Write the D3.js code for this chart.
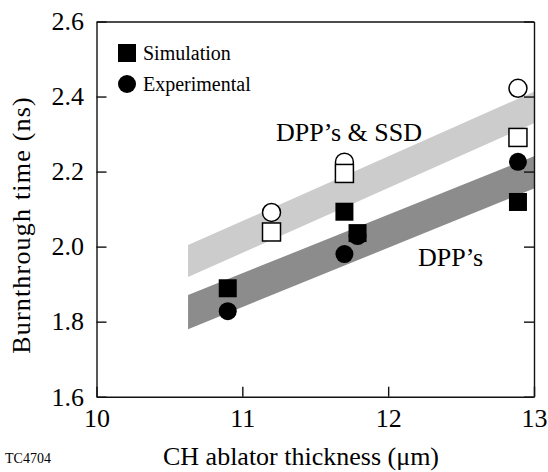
<!DOCTYPE html>
<html><head><meta charset="utf-8">
<script src="https://cdn.jsdelivr.net/npm/d3@7"></script>
<style>body{margin:0;background:#fff}svg{display:block}</style>
</head><body><svg id="c" width="548" height="472"></svg>
<script>
// Data
const xTicks = [10, 11, 12, 13];
const yTicks = [1.6, 1.8, 2.0, 2.2, 2.4, 2.6];
const simX = [10.9, 11.7, 11.79, 12.89];
const simY = [1.889, 2.093, 2.036, 2.119];
const expX = [10.9, 11.7, 11.79, 12.89];
const expY = [1.828, 1.98, 2.028, 2.226];
const ssdSimX = [11.2, 11.7, 12.89];
const ssdSimY = [2.039, 2.195, 2.291];
const ssdExpX = [11.2, 11.7, 12.89];
const ssdExpY = [2.091, 2.225, 2.422];
// bands: [x, top, bottom]
const bandSSD = [[10.628, 2.004, 1.919], [13, 2.413, 2.329]];
const bandDPP = [[10.628, 1.871, 1.780], [13, 2.241, 2.155]];
const legendLabels = ["Simulation", "Experimental"];

const FONT = "'Liberation Serif', 'Times New Roman', Times, serif";
const svg = d3.select("#c").style("font-family", FONT);
const L = 96.5, R = 534, T = 21.5, B = 396.7;
const x = d3.scaleLinear().domain([10, 13]).range([L, R]);
const y = d3.scaleLinear().domain([1.6, 2.6]).range([B, T]);

function band(b, color) {
  const pts = [[b[0][0], b[0][1]], [b[1][0], b[1][1]], [b[1][0], b[1][2]], [b[0][0], b[0][2]]];
  svg.append("path").attr("d", "M" + pts.map(p => [x(p[0]), y(p[1])].join(",")).join("L") + "Z")
    .attr("fill", color);
}
band(bandSSD, "#cccccc");
band(bandDPP, "#8c8c8c");

// axes
const ax = svg.append("g");
ax.append("g").attr("transform", `translate(0,${B})`)
  .call(d3.axisBottom(x).tickValues(xTicks).tickSize(-10).tickSizeOuter(0).tickPadding(11.5).tickFormat(d3.format("d")));
ax.append("g").attr("transform", `translate(${L},0)`)
  .call(d3.axisLeft(y).tickValues(yTicks).tickSize(-10).tickSizeOuter(0).tickPadding(12.5).tickFormat(d3.format(".1f")));
ax.append("g").attr("transform", `translate(${R},0)`)
  .call(d3.axisRight(y).tickValues(yTicks).tickSize(-10).tickSizeOuter(0).tickFormat(""));
ax.append("g").attr("transform", `translate(0,${T})`)
  .call(d3.axisTop(x).tickValues([]).tickSizeOuter(0));
ax.selectAll("g").attr("font-family", null).attr("font-size", null);
ax.selectAll("path.domain, line").attr("stroke", "#111").attr("stroke-width", 1.4);
ax.selectAll("text").style("font-family", FONT).style("font-size", "26px").attr("fill", "#000");

const S = 18, r = 9;
function squares(xs, ys, fill) {
  svg.append("g").selectAll("rect").data(xs.map((d, i) => [d, ys[i]])).join("rect")
    .attr("x", d => x(d[0]) - S / 2).attr("y", d => y(d[1]) - S / 2)
    .attr("width", S).attr("height", S)
    .attr("fill", fill).attr("stroke", "#000").attr("stroke-width", fill === "#000" ? 0 : 1.5);
}
function circles(xs, ys, fill) {
  svg.append("g").selectAll("circle").data(xs.map((d, i) => [d, ys[i]])).join("circle")
    .attr("cx", d => x(d[0])).attr("cy", d => y(d[1])).attr("r", r)
    .attr("fill", fill).attr("stroke", "#000").attr("stroke-width", fill === "#000" ? 0 : 1.5);
}
circles(ssdExpX, ssdExpY, "#fff");
squares(ssdSimX, ssdSimY, "#fff");
squares(simX, simY, "#000");
circles(expX, expY, "#000");

// legend
const lg = svg.append("g");
lg.append("rect").attr("x", 118).attr("y", 44).attr("width", S).attr("height", S).attr("fill", "#000");
lg.append("circle").attr("cx", 127).attr("cy", 84).attr("r", r).attr("fill", "#000");
lg.selectAll("text").data(legendLabels).join("text")
  .attr("x", 143).attr("y", (d, i) => 60 + i * 31).style("font-family", FONT).style("font-size", "20px").text(d => d);

// annotations
svg.append("text").attr("x", 276).attr("y", 141).style("font-family", FONT).style("font-size", "26px").text("DPP’s & SSD");
svg.append("text").attr("x", 418).attr("y", 266).style("font-family", FONT).style("font-size", "26px").text("DPP’s");

// titles
svg.append("text").attr("x", 301).attr("y", 465).attr("text-anchor", "middle")
  .style("font-family", FONT).style("font-size", "26px").text("CH ablator thickness (μm)");
svg.append("text").attr("transform", `translate(30,225) rotate(-90)`)
  .attr("text-anchor", "middle").style("font-family", FONT).style("font-size", "26px")
  .style("letter-spacing", "1.2px").text("Burnthrough time (ns)");
svg.append("text").attr("x", 5).attr("y", 463).style("font-family", FONT).style("font-size", "14px").text("TC4704");
</script></body></html>
